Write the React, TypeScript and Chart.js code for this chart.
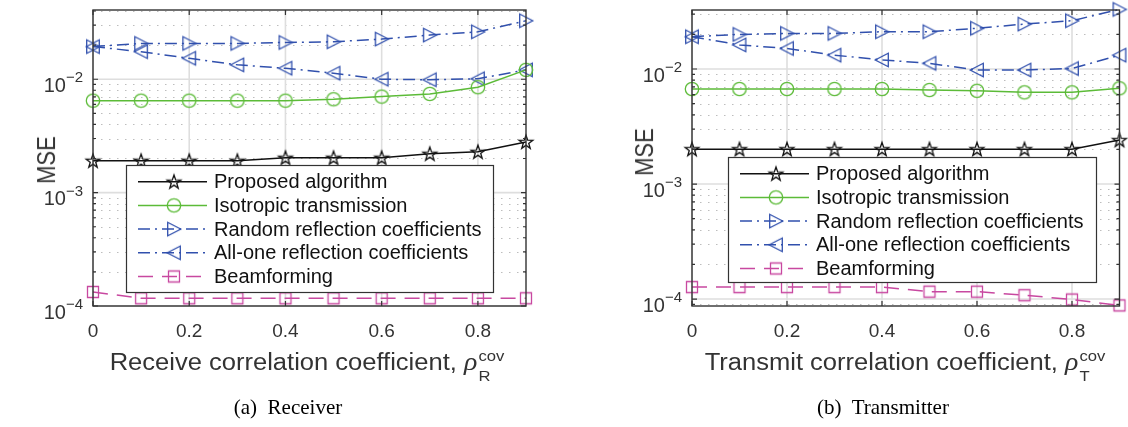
import React, { useEffect, useRef } from 'react';
import { Chart, registerables } from 'chart.js';

Chart.register(...registerables);

// ---------- data ----------
const rhoValues = [0, 0.1, 0.2, 0.3, 0.4, 0.5, 0.6, 0.7, 0.8, 0.9];
const xTickValues = [0, 0.2, 0.4, 0.6, 0.8];
const yMajorValues = [1e-4, 1e-3, 1e-2];
const seriesNames = [
  'Proposed algorithm',
  'Isotropic transmission',
  'Random reflection coefficients',
  'All-one reflection coefficients',
  'Beamforming',
];

// (a) Receiver
const rxProposed = [1.91e-3, 1.91e-3, 1.91e-3, 1.91e-3, 2.03e-3, 2.03e-3, 2.03e-3, 2.2e-3, 2.29e-3, 2.8e-3];
const rxIsotropic = [6.47e-3, 6.47e-3, 6.47e-3, 6.47e-3, 6.47e-3, 6.66e-3, 7.03e-3, 7.42e-3, 8.5e-3, 1.21e-2];
const rxRandom = [0.0194, 0.0207, 0.0207, 0.0207, 0.0211, 0.0214, 0.0226, 0.0245, 0.0262, 0.0328];
const rxAllOne = [0.0194, 0.0175, 0.0153, 0.0134, 0.0125, 0.0113, 0.01, 0.0099, 0.0101, 0.0121];
const rxBeam = [1.33e-4, 1.17e-4, 1.17e-4, 1.17e-4, 1.17e-4, 1.17e-4, 1.17e-4, 1.17e-4, 1.17e-4, 1.17e-4];

// (b) Transmitter
const txProposed = [2.01e-3, 2.01e-3, 2.01e-3, 2.01e-3, 2.01e-3, 2.01e-3, 2.01e-3, 2.01e-3, 2.01e-3, 2.41e-3];
const txIsotropic = [6.7e-3, 6.7e-3, 6.7e-3, 6.7e-3, 6.7e-3, 6.57e-3, 6.47e-3, 6.27e-3, 6.27e-3, 6.8e-3];
const txRandom = [0.0191, 0.02, 0.0204, 0.0204, 0.0211, 0.0211, 0.0226, 0.0246, 0.0263, 0.033];
const txAllOne = [0.0191, 0.0162, 0.0151, 0.0132, 0.012, 0.0112, 0.0098, 0.0098, 0.0101, 0.0132];
const txBeam = [1.27e-4, 1.27e-4, 1.27e-4, 1.27e-4, 1.27e-4, 1.16e-4, 1.16e-4, 1.08e-4, 0.99e-4, 0.88e-4];

// ---------- styles ----------
const BLACK = '#111111';
const GREEN = '#5cbb38';
const BLUE = '#3150ad';
const MAGENTA = '#c848a0';
const AXIS = '#333333';
const FONT = '"Liberation Sans", Arial, Helvetica, sans-serif';

const seriesStyles = [
  { color: BLACK, dash: [] as number[], marker: 'star' },
  { color: GREEN, dash: [] as number[], marker: 'circle' },
  { color: BLUE, dash: [12, 5, 2, 5], marker: 'triR' },
  { color: BLUE, dash: [12, 5, 2, 5], marker: 'triL' },
  { color: MAGENTA, dash: [15, 9], marker: 'square' },
];

function makeMarker(kind: string, color: string): HTMLCanvasElement {
  const S = 20;
  const c = document.createElement('canvas');
  c.width = S;
  c.height = S;
  const g = c.getContext('2d')!;
  g.strokeStyle = color;
  g.lineWidth = 1.3;
  const m = S / 2;
  g.beginPath();
  if (kind === 'star') {
    const R = 7.2;
    const r = R * 0.4;
    for (let k = 0; k < 10; k++) {
      const a = -Math.PI / 2 + (k * Math.PI) / 5;
      const rr = k % 2 === 0 ? R : r;
      const px = m + rr * Math.cos(a);
      const py = m + 0.5 + rr * Math.sin(a);
      if (k === 0) g.moveTo(px, py);
      else g.lineTo(px, py);
    }
    g.closePath();
  } else if (kind === 'circle') {
    g.arc(m, m, 6.7, 0, Math.PI * 2);
  } else if (kind === 'triR') {
    g.moveTo(m + 6.8, m);
    g.lineTo(m - 6.3, m - 6.8);
    g.lineTo(m - 6.3, m + 6.8);
    g.closePath();
  } else if (kind === 'triL') {
    g.moveTo(m - 6.8, m);
    g.lineTo(m + 6.3, m - 6.8);
    g.lineTo(m + 6.3, m + 6.8);
    g.closePath();
  } else {
    g.rect(m - 5.5, m - 5.5, 11, 11);
  }
  g.stroke();
  return c;
}

const PANEL_W = 564;
const PANEL_H = 427;
const AREA_TOP = 10;
const AREA_BOTTOM = 306;

type PanelCfg = {
  series: number[][];
  yMin: number;
  yMax: number;
  areaLeft: number;
  areaRight: number;
  legend: { x: number; y: number; w: number; h: number };
};

const matlabPlugin = {
  id: 'matlabLook',
  beforeDatasetsDraw(chart: any) {
    const { ctx, chartArea: a } = chart;
    const x = chart.scales.x;
    const y = chart.scales.y;
    ctx.save();
    // minor dotted grid
    ctx.strokeStyle = '#bdbdbd';
    ctx.lineWidth = 1.2;
    ctx.setLineDash([1.5, 6.5]);
    const d0 = Math.floor(Math.log10(y.min));
    const d1 = Math.ceil(Math.log10(y.max));
    for (let d = d0; d <= d1; d++) {
      for (let k = 2; k <= 9; k++) {
        const v = k * Math.pow(10, d);
        if (v <= y.min || v >= y.max) continue;
        const py = Math.round(y.getPixelForValue(v)) + 0.5;
        ctx.beginPath();
        ctx.moveTo(a.left, py);
        ctx.lineTo(a.right, py);
        ctx.stroke();
      }
    }
    // major solid grid
    ctx.setLineDash([]);
    ctx.strokeStyle = '#dedede';
    ctx.lineWidth = 1.6;
    for (const v of yMajorValues) {
      if (v < y.min || v > y.max) continue;
      const py = y.getPixelForValue(v);
      ctx.beginPath();
      ctx.moveTo(a.left, py);
      ctx.lineTo(a.right, py);
      ctx.stroke();
    }
    for (const v of xTickValues) {
      const px = x.getPixelForValue(v);
      ctx.beginPath();
      ctx.moveTo(px, a.top);
      ctx.lineTo(px, a.bottom);
      ctx.stroke();
    }
    ctx.restore();
  },
  afterDatasetsDraw(chart: any) {
    const { ctx, chartArea: a } = chart;
    const x = chart.scales.x;
    const y = chart.scales.y;
    const cfg: PanelCfg = chart.options.plugins.matlabLook.cfg;
    ctx.save();
    // box
    ctx.strokeStyle = AXIS;
    ctx.lineWidth = 1.4;
    ctx.strokeRect(a.left, a.top, a.right - a.left, a.bottom - a.top);
    // ticks
    ctx.lineWidth = 1.2;
    for (const v of xTickValues) {
      const px = x.getPixelForValue(v);
      ctx.beginPath();
      ctx.moveTo(px, a.bottom);
      ctx.lineTo(px, a.bottom - 5);
      ctx.moveTo(px, a.top);
      ctx.lineTo(px, a.top + 5);
      ctx.stroke();
    }
    const d0 = Math.floor(Math.log10(y.min));
    const d1 = Math.ceil(Math.log10(y.max));
    for (let d = d0; d <= d1; d++) {
      for (let k = 1; k <= 9; k++) {
        const v = k * Math.pow(10, d);
        if (v < y.min || v > y.max) continue;
        const py = y.getPixelForValue(v);
        const len = k === 1 ? 5 : 3;
        ctx.beginPath();
        ctx.moveTo(a.left, py);
        ctx.lineTo(a.left + len, py);
        ctx.moveTo(a.right, py);
        ctx.lineTo(a.right - len, py);
        ctx.stroke();
      }
    }
    // y tick labels: 10^n
    ctx.fillStyle = AXIS;
    ctx.textAlign = 'right';
    ctx.textBaseline = 'alphabetic';
    for (const v of yMajorValues) {
      if (v < y.min * 0.999 || v > y.max) continue;
      const py = y.getPixelForValue(v);
      const exp = String(Math.round(Math.log10(v))).replace('-', '\u2212');
      const xEnd = a.left - 10;
      ctx.font = `15px ${FONT}`;
      const ew = ctx.measureText(exp).width;
      ctx.fillText(exp, xEnd, py + 3);
      ctx.font = `20px ${FONT}`;
      ctx.fillText('10', xEnd - ew, py + 12.5);
    }
    // legend
    const L = cfg.legend;
    ctx.fillStyle = '#ffffff';
    ctx.fillRect(L.x, L.y, L.w, L.h);
    ctx.strokeStyle = AXIS;
    ctx.lineWidth = 1.2;
    ctx.strokeRect(L.x + 0.5, L.y + 0.5, L.w, L.h);
    chart.data.datasets.forEach((ds: any, i: number) => {
      const ry = L.y + 16.7 + i * 23.7;
      ctx.save();
      ctx.strokeStyle = ds.borderColor;
      ctx.lineWidth = ds.borderWidth;
      ctx.setLineDash(ds.borderDash || []);
      ctx.beginPath();
      ctx.moveTo(L.x + 12, ry);
      ctx.lineTo(L.x + 81, ry);
      ctx.stroke();
      ctx.restore();
      const img = ds.pointStyle as HTMLCanvasElement;
      ctx.drawImage(img, L.x + 48 - img.width / 2, ry - img.height / 2);
      ctx.fillStyle = '#111111';
      ctx.font = `20px ${FONT}`;
      ctx.textAlign = 'left';
      ctx.textBaseline = 'middle';
      ctx.fillText(ds.label, L.x + 88, ry + 1);
    });
    ctx.restore();
  },
};

function buildChart(canvas: HTMLCanvasElement, cfg: PanelCfg) {
  const datasets = cfg.series.map((vals, i) => {
    const st = seriesStyles[i];
    return {
      label: seriesNames[i],
      data: rhoValues.map((xv, j) => ({ x: xv, y: vals[j] })),
      borderColor: st.color,
      backgroundColor: st.color,
      borderWidth: 1.5,
      borderDash: st.dash,
      pointStyle: makeMarker(st.marker, st.color),
      pointRadius: 7,
      pointHoverRadius: 7,
      fill: false,
      tension: 0,
      clip: false,
    };
  });
  return new Chart(canvas, {
    type: 'line',
    data: { datasets } as any,
    plugins: [matlabPlugin as any],
    options: {
      animation: false,
      responsive: false,
      maintainAspectRatio: false,
      events: [],
      layout: {
        padding: { left: 0, right: PANEL_W - cfg.areaRight, top: AREA_TOP, bottom: 0 },
      },
      plugins: {
        legend: { display: false },
        tooltip: { enabled: false },
        title: { display: false },
        matlabLook: { cfg },
      } as any,
      scales: {
        x: {
          type: 'linear',
          min: 0,
          max: 0.9,
          grid: { display: false },
          border: { display: false },
          afterBuildTicks: (scale: any) => {
            scale.ticks = xTickValues.map((v) => ({ value: v }));
          },
          afterFit: (scale: any) => {
            scale.height = PANEL_H - AREA_BOTTOM;
          },
          ticks: {
            autoSkip: false,
            maxRotation: 0,
            minRotation: 0,
            padding: 6,
            color: AXIS,
            font: { family: FONT, size: 19 },
            callback: (v: any) => String(Number(v)),
          },
        },
        y: {
          type: 'logarithmic',
          min: cfg.yMin,
          max: cfg.yMax,
          grid: { display: false },
          border: { display: false },
          ticks: { display: false },
          afterFit: (scale: any) => {
            scale.width = cfg.areaLeft;
          },
        },
      },
    } as any,
  });
}

const leftCfg: PanelCfg = {
  series: [rxProposed, rxIsotropic, rxRandom, rxAllOne, rxBeam],
  yMin: 1e-4,
  yMax: 0.0408,
  areaLeft: 93,
  areaRight: 526,
  legend: { x: 126, y: 165, w: 367, h: 127 },
};

const rightCfg: PanelCfg = {
  series: [txProposed, txIsotropic, txRandom, txAllOne, txBeam],
  yMin: 0.87e-4,
  yMax: 0.0326,
  areaLeft: 692 - PANEL_W,
  areaRight: 1124 - PANEL_W,
  legend: { x: 728 - PANEL_W, y: 157, w: 368, h: 125 },
};

const labelStyle: React.CSSProperties = {
  position: 'absolute',
  whiteSpace: 'nowrap',
  color: AXIS,
  fontFamily: FONT,
};

function AxisTitle({ cx, text, sub }: { cx: number; text: string; sub: string }) {
  return (
    <div
      style={{
        ...labelStyle,
        left: cx,
        top: 346,
        fontSize: 23,
        lineHeight: '27px',
        transform: 'translateX(-50%) scaleX(1.11)',
      }}
    >
      {text}
      <span style={{ fontFamily: '"Liberation Serif", "Times New Roman", serif', fontStyle: 'italic', fontSize: 25 }}>ρ</span>
      <span
        style={{
          display: 'inline-block',
          fontSize: 15,
          lineHeight: '20px',
          verticalAlign: '-11px',
          marginLeft: 1,
          textAlign: 'left',
        }}
      >
        <span style={{ display: 'block' }}>cov</span>
        <span style={{ display: 'block' }}>{sub}</span>
      </span>
    </div>
  );
}

export default function App() {
  const leftRef = useRef<HTMLCanvasElement>(null);
  const rightRef = useRef<HTMLCanvasElement>(null);

  useEffect(() => {
    const c1 = buildChart(leftRef.current!, leftCfg);
    const c2 = buildChart(rightRef.current!, rightCfg);
    return () => {
      c1.destroy();
      c2.destroy();
    };
  }, []);

  return (
    <div
      style={{
        position: 'absolute',
        left: 0,
        top: 0,
        width: 1128,
        height: PANEL_H,
        background: '#ffffff',
        overflow: 'hidden',
      }}
    >
      <canvas
        ref={leftRef}
        width={PANEL_W}
        height={PANEL_H}
        style={{ position: 'absolute', left: 0, top: 0, width: PANEL_W, height: PANEL_H }}
      />
      <canvas
        ref={rightRef}
        width={PANEL_W}
        height={PANEL_H}
        style={{ position: 'absolute', left: PANEL_W, top: 0, width: PANEL_W, height: PANEL_H }}
      />
      <div
        style={{
          ...labelStyle,
          left: 47,
          top: 160,
          fontSize: 22,
          transform: 'translate(-50%, -50%) scaleX(1.15) rotate(-90deg)',
        }}
      >
        MSE
      </div>
      <div
        style={{
          ...labelStyle,
          left: 645,
          top: 152,
          fontSize: 22,
          transform: 'translate(-50%, -50%) scaleX(1.15) rotate(-90deg)',
        }}
      >
        MSE
      </div>
      <AxisTitle cx={307} text="Receive correlation coefficient, " sub="R" />
      <AxisTitle cx={905} text="Transmit correlation coefficient, " sub="T" />
      <div
        style={{
          position: 'absolute',
          left: 288,
          top: 394,
          transform: 'translateX(-50%)',
          fontFamily: '"Liberation Serif", "Times New Roman", serif',
          fontSize: 21,
          lineHeight: '26px',
          color: '#000',
          whiteSpace: 'pre',
        }}
      >
        {'(a)  Receiver'}
      </div>
      <div
        style={{
          position: 'absolute',
          left: 883,
          top: 394,
          transform: 'translateX(-50%)',
          fontFamily: '"Liberation Serif", "Times New Roman", serif',
          fontSize: 21,
          lineHeight: '26px',
          color: '#000',
          whiteSpace: 'pre',
        }}
      >
        {'(b)  Transmitter'}
      </div>
    </div>
  );
}
